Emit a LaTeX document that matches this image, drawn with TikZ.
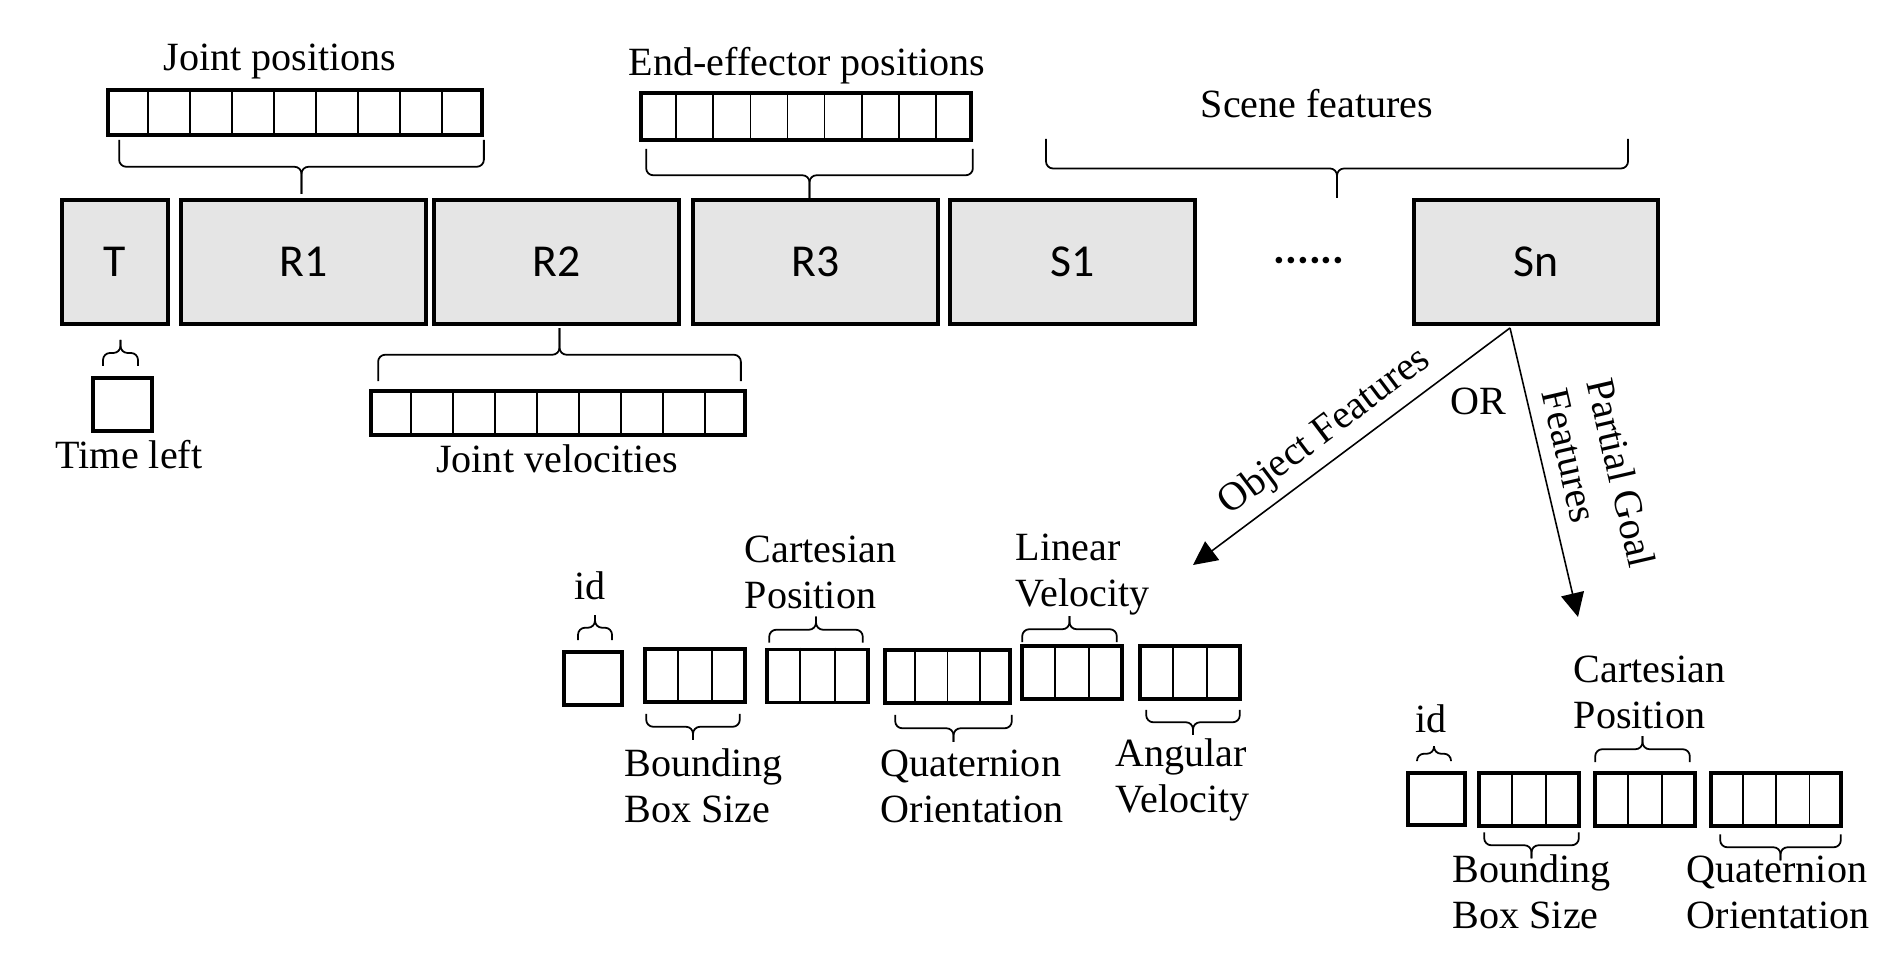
\documentclass[tikz,border=0pt]{standalone}
\usepackage{fontspec}
\setmainfont{Liberation Serif}
\newfontfamily\boxfont{Carlito}
\usetikzlibrary{positioning,calc,arrows.meta}

\tikzset{
  blk/.style={draw, line width=1.1pt, fill=gray!20, minimum height=1.24cm, inner sep=0pt, font=\boxfont\fontsize{13}{15}\selectfont},
  arr/.style={draw, line width=1pt, inner sep=0pt, minimum height=0.53cm},
  lbl/.style={inner sep=0pt, font=\fontsize{11.4}{13.1}\selectfont},
  brace/.style={line width=0.5pt, rounded corners=2pt},
  feat/.style={-{Triangle[length=6.8pt,width=6.6pt]}, line width=0.45pt}
}

% dividers inside an array node
\newcommand{\cells}[2]{%
  \pgfmathtruncatemacro{\lastcell}{#2-1}
  \foreach \i in {1,...,\lastcell}
    \draw[line width=0.5pt] ($(#1.north west)!\i/#2!(#1.north east)$) -- ($(#1.south west)!\i/#2!(#1.south east)$);
}
% brace between two points, tip at twice the half height
\newcommand{\curly}[3]{%
  \coordinate (ba) at (#1);
  \coordinate (bb) at (#2);
  \coordinate (bm) at ($(ba)!0.5!(bb)+(0,#3)$);
  \draw[brace] (ba) |- (bm) -- ++(0,#3);
  \draw[brace] (bb) |- (bm) -- ++(0,#3);
}

\begin{document}
\begin{tikzpicture}[x=0.01cm, y=-0.01cm]
    \useasboundingbox (0,0) rectangle (1900,980);

    % State blocks
    \node[blk, minimum width=1.06cm] (T) at (115,262) {T};
    \node[blk, minimum width=2.45cm] (R1) at (303.5,262) {R1};
    \node[blk, minimum width=2.45cm] (R2) at (556.5,262) {R2};
    \node[blk, minimum width=2.45cm] (R3) at (815.5,262) {R3};
    \node[blk, minimum width=2.45cm] (S1) at (1072.5,262) {S1};
    \node[blk, minimum width=2.44cm] (Sn) at (1536,262) {Sn};
    \node[inner sep=0pt, anchor=base, font=\boxfont\bfseries\fontsize{12.5}{14}\selectfont] (dots) at (1309,264) {......};

    % Robot arrays
    \node[arr, minimum width=3.74cm, minimum height=0.45cm] (jpos) at (295,112.5) {};
    \cells{jpos}{9}
    \node[arr, minimum width=3.30cm, minimum height=0.47cm] (eepos) at (806,116.5) {};
    \cells{eepos}{9}
    \node[arr, minimum width=3.74cm, minimum height=0.44cm] (jvel) at (558,413) {};
    \cells{jvel}{9}
    \node[arr, minimum width=0.59cm] (tleft) at (122.5,404.5) {};

    \curly{$(jpos.south west)+(13,3)$}{$(jpos.south east)+(0,3)$}{27}
    \curly{$(eepos.south west)+(7,7)$}{$(eepos.south east)+(0,7)$}{26.5}
    \curly{1046,139}{1628,139}{29.5}
    \curly{$(T.south)+(-12,40)$}{$(T.south)+(23,40)$}{-13}
    \curly{$(jvel.north west)+(9,-8)$}{$(jvel.north east)+(-6,-8)$}{-26.5}

    \node[lbl, anchor=base] (jposlbl) at (280,71) {Joint positions};
    \node[lbl, anchor=base] (eeposlbl) at (807,76) {End-effector positions};
    \node[lbl, anchor=base] (scenelbl) at (1317,118) {Scene features};
    \node[lbl, anchor=base] (tleftlbl) at (129,469) {Time left};
    \node[lbl, anchor=base] (jvellbl) at (557,473) {Joint velocities};

    % Branches from Sn
    \coordinate (fork) at ($(Sn.south)+(-26,2)$);
    \coordinate (objtip) at (1193,565);
    \coordinate (goaltip) at (1578,617);
    \draw[feat] (fork) -- (objtip);
    \draw[feat] (fork) -- (goaltip);
    \node[lbl, rotate=37] (objlbl) at (1325,432) {Object Features};
    \node[lbl, anchor=base] (orlbl) at (1478,415) {OR};
    \node[lbl, rotate=-77, align=left] (goallbl) at (1599,478) {Partial Goal\\Features};

    % Object features (base = last line)
    \node[arr, minimum width=0.58cm] (oid) at (593,678.5) {};
    \node[arr, minimum width=1.00cm] (obbs) at (695,675.5) {};
    \cells{obbs}{3}
    \node[arr, minimum width=1.01cm] (ocart) at (817.5,676) {};
    \cells{ocart}{3}
    \node[arr, minimum width=1.25cm] (oquat) at (947.5,676.5) {};
    \cells{oquat}{4}
    \node[arr, minimum width=1.00cm] (olin) at (1072,672.5) {};
    \cells{olin}{3}
    \node[arr, minimum width=1.00cm] (oang) at (1190,672.5) {};
    \cells{oang}{3}

    \curly{$(oid.north)+(-15,-10)$}{$(oid.north)+(19,-10)$}{-12.5}
    \curly{$(obbs.south west)+(3,10)$}{$(obbs.south east)+(-7,10)$}{13}
    \curly{$(ocart.north west)+(4,-5)$}{$(ocart.north east)+(-7,-5)$}{-13}
    \curly{$(oquat.south west)+(12,10)$}{$(oquat.south east)+(0,10)$}{13.5}
    \curly{$(olin.north west)+(2,-2)$}{$(olin.north east)+(-7,-2)$}{-13}
    \curly{$(oang.south west)+(8,9)$}{$(oang.south east)+(-2,9)$}{12.5}

    \node[lbl, anchor=base] (oidlbl) at (590,600) {id};
    \node[lbl, align=left, anchor=base west] (obbslbl) at (624,823) {Bounding\\Box Size};
    \node[lbl, align=left, anchor=base west] (ocartlbl) at (744,609) {Cartesian\\Position};
    \node[lbl, align=left, anchor=base west] (oquatlbl) at (880,823) {Quaternion\\Orientation};
    \node[lbl, align=left, anchor=base west] (olinlbl) at (1015,607) {Linear\\Velocity};
    \node[lbl, align=left, anchor=base west] (oanglbl) at (1115,813) {Angular\\Velocity};

    % Partial goal features
    \node[arr, minimum width=0.57cm, minimum height=0.52cm] (gid) at (1436.5,799) {};
    \node[arr, minimum width=1.00cm] (gbbs) at (1529,799.5) {};
    \cells{gbbs}{3}
    \node[arr, minimum width=1.00cm] (gcart) at (1645,799.5) {};
    \cells{gcart}{3}
    \node[arr, minimum width=1.30cm] (gquat) at (1776,799.5) {};
    \cells{gquat}{4}

    \curly{$(gid.north)+(-19.5,-10)$}{$(gid.north)+(14.5,-10)$}{-7.5}
    \curly{$(gbbs.south west)+(7,4.5)$}{$(gbbs.south east)+(-2,4.5)$}{13}
    \curly{$(gcart.north west)+(2,-9)$}{$(gcart.north east)+(-7,-9)$}{-13}
    \curly{$(gquat.south west)+(11,6.5)$}{$(gquat.south east)+(-2,6.5)$}{13}

    \node[lbl, anchor=base] (gidlbl) at (1431,733) {id};
    \node[lbl, align=left, anchor=base west] (gbbslbl) at (1452,929) {Bounding\\Box Size};
    \node[lbl, align=left, anchor=base west] (gcartlbl) at (1573,729) {Cartesian\\Position};
    \node[lbl, align=left, anchor=base west] (gquatlbl) at (1686,929) {Quaternion\\Orientation};

\end{tikzpicture}
\end{document}
